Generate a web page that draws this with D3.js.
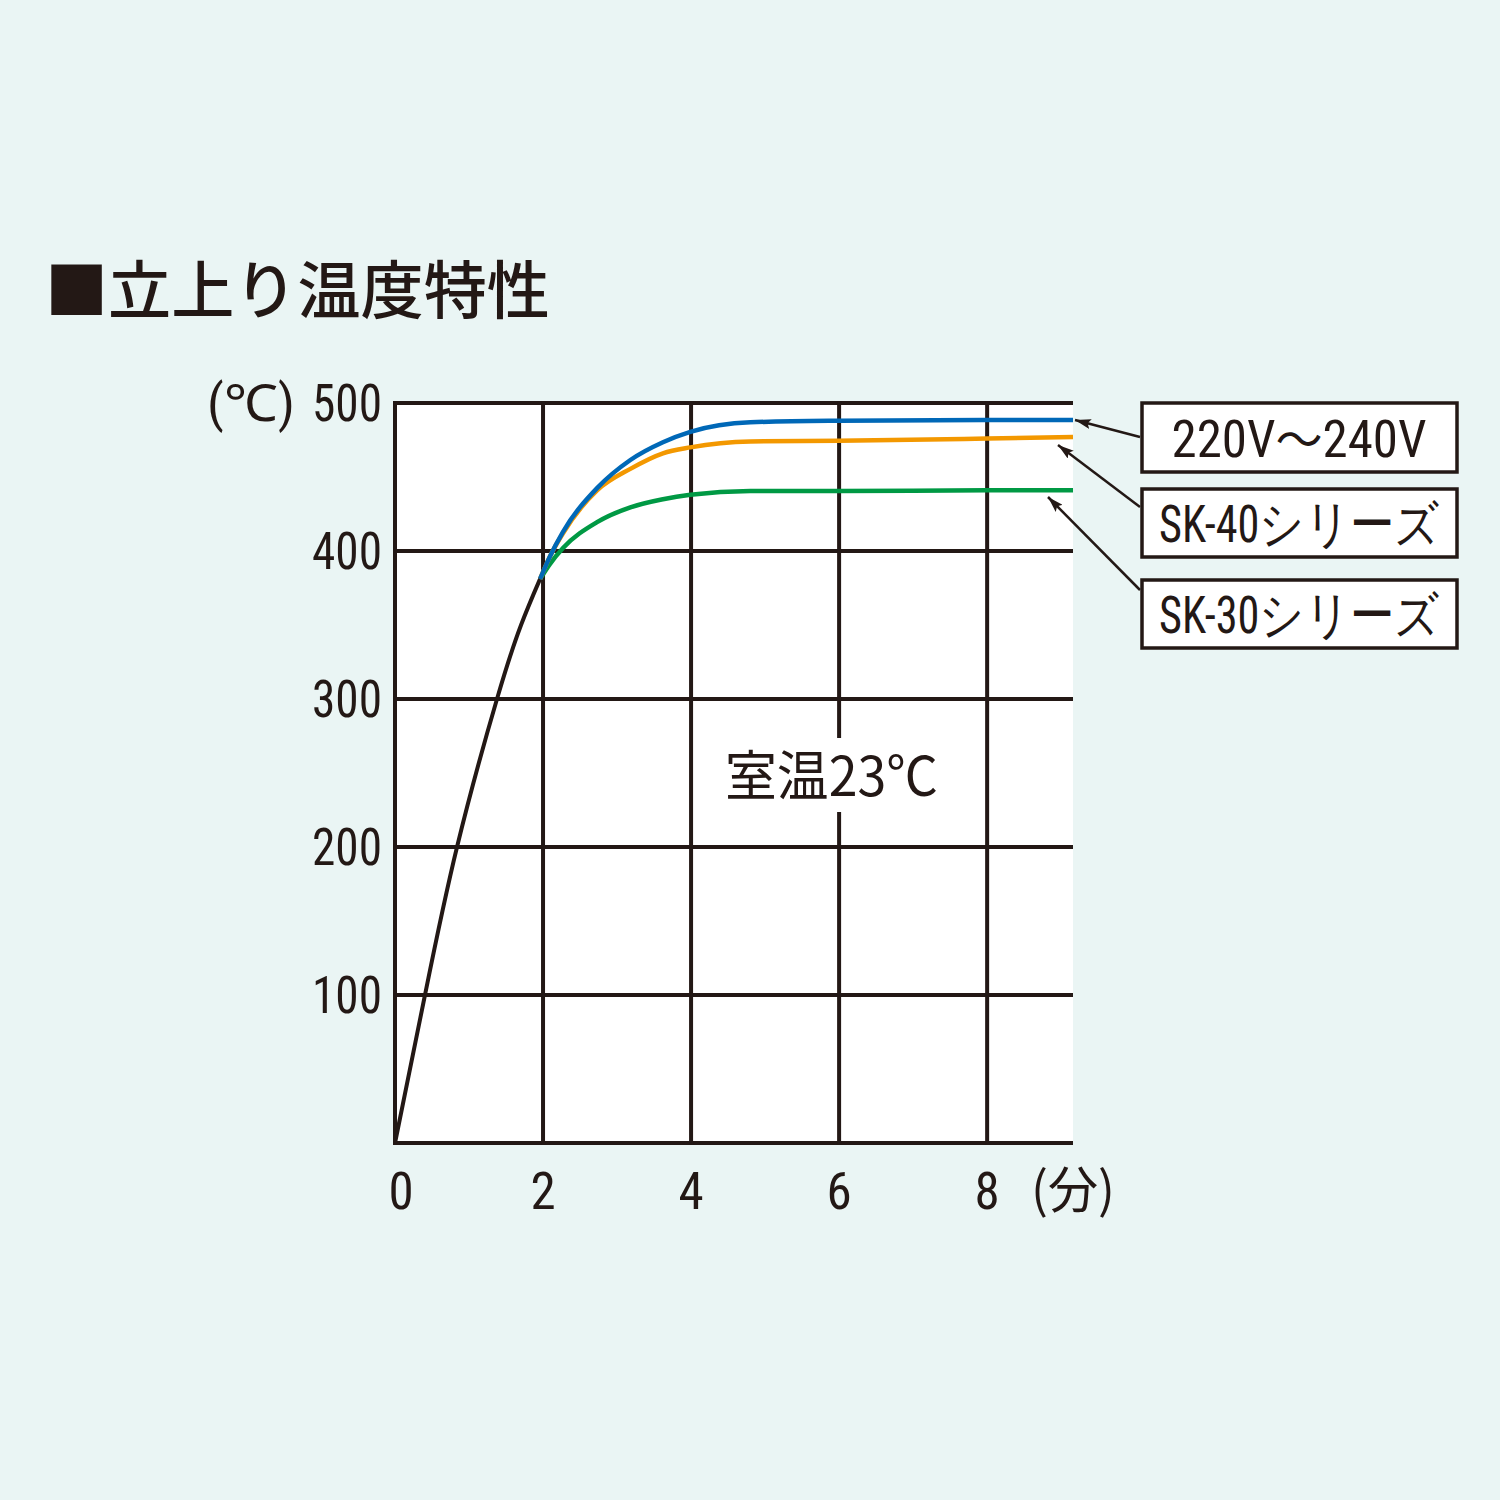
<!DOCTYPE html>
<html><head><meta charset="utf-8">
<script src="https://cdn.jsdelivr.net/npm/d3@7"></script>
<style>
html,body{margin:0;padding:0;background:#eaf5f4;}
svg{display:block;}
</style></head>
<body>
<svg id="c" width="1500" height="1500"></svg>
<script>
const title = "■立上り温度特性";
const yTicks = [100, 200, 300, 400, 500];
const xTicks = [0, 2, 4, 6, 8];
const yUnit = "(℃)";
const xUnit = "(分)";
const roomLabel = "室温23℃";

const blackT = [0, 0.405, 0.838, 1.378, 1.703, 1.959];
const blackV = [0, 100, 200, 300, 350, 381];

const riseT   = [1.959, 2.09, 2.27, 2.73, 3.18, 3.62, 3.99, 4.8, 6, 8, 9.16];
const blueV   = [381, 396, 413, 442.5, 461.5, 473.5, 480.5, 487, 488, 488.5, 488.5];
const orangeV = [381, 396, 412, 441, 455.5, 466, 470, 474, 474.5, 476, 477];
const greenV  = [381, 391, 402, 419.5, 429.5, 435, 438, 440.5, 440.5, 441, 441];

const seriesNames = [["220V", "～", "240V"], ["SK-40シリーズ"], ["SK-30シリーズ"]];
const seriesColors = ["#0068b7", "#f39800", "#009944"];

const ink = "#231815";
const svg = d3.select("#c");
const numFont = "'Liberation Sans Narrow','Roboto Condensed','Liberation Sans',sans-serif";
const jpFont = "'Noto Sans CJK JP',sans-serif";

const x = d3.scaleLinear().domain([0, 9.16]).range([395, 1073]);
const y = d3.scaleLinear().domain([0, 500]).range([1143, 403]);

// title
svg.append("text").attr("x", 45).attr("y", 313)
  .attr("font-family", jpFont).attr("font-weight", 500).attr("font-size", 63)
  .attr("textLength", 505).attr("lengthAdjust", "spacingAndGlyphs")
  .attr("fill", ink).text(title);

// plot background
svg.append("rect").attr("x", x(0)).attr("y", y(500))
  .attr("width", x(9.16) - x(0)).attr("height", y(0) - y(500)).attr("fill", "#fff");

// grid
const g = svg.append("g").attr("stroke", ink).attr("stroke-width", 4);
[0].concat(yTicks).forEach(v => {
  g.append("line").attr("x1", x(0) - 2).attr("x2", x(9.16)).attr("y1", y(v)).attr("y2", y(v));
});
xTicks.forEach(v => {
  g.append("line").attr("x1", x(v)).attr("x2", x(v)).attr("y1", y(500) - 2).attr("y2", y(0) + 2);
});

// room temp label with white box
svg.append("rect").attr("x", 722).attr("y", 738).attr("width", 222).attr("height", 74).attr("fill", "#fff");
svg.append("text").attr("x", 725).attr("y", 796)
  .attr("font-family", jpFont).attr("font-size", 54).attr("fill", ink)
  .attr("textLength", 213).attr("lengthAdjust", "spacingAndGlyphs").text(roomLabel);

// curves
const lineC = d3.line().x(d => x(d[0])).y(d => y(d[1])).curve(d3.curveMonotoneX);
const lineB = d3.line().x(d => x(d[0])).y(d => y(d[1])).curve(d3.curveNatural);
const curves = [blueV, orangeV, greenV];
[2, 1, 0].forEach(i => {
  svg.append("path").attr("d", lineC(riseT.map((t, k) => [t, curves[i][k]])))
    .attr("fill", "none").attr("stroke", seriesColors[i]).attr("stroke-width", 4.5);
});
svg.append("path").attr("d", lineB(blackT.map((t, k) => [t, blackV[k]])))
  .attr("fill", "none").attr("stroke", ink).attr("stroke-width", 4);

// y tick labels
yTicks.forEach(v => {
  svg.append("text").attr("x", 382).attr("y", y(v) + 18).attr("text-anchor", "end")
    .attr("font-family", numFont).attr("font-size", 51).attr("fill", ink)
    .attr("textLength", 70).attr("lengthAdjust", "spacingAndGlyphs").text(v);
});
svg.append("text").attr("x", 207).attr("y", y(500) + 18)
  .attr("font-family", numFont).attr("font-size", 51).attr("fill", ink)
  .attr("textLength", 88).attr("lengthAdjust", "spacingAndGlyphs").text(yUnit);

// x tick labels
xTicks.forEach(v => {
  svg.append("text").attr("x", x(v) + (v === 0 ? 6 : 0)).attr("y", 1209).attr("text-anchor", "middle")
    .attr("font-family", numFont).attr("font-size", 51).attr("fill", ink).text(v);
});
svg.append("text").attr("x", 1031).attr("y", 1208)
  .attr("font-family", jpFont).attr("font-size", 50).attr("fill", ink)
  .attr("textLength", 84).attr("lengthAdjust", "spacingAndGlyphs").text(xUnit);

// legend boxes with arrows
const boxes = [{y: 403, h: 69, w: 255}, {y: 489, h: 68, w: 280}, {y: 580, h: 68, w: 280}];
const defs = svg.append("defs");
defs.append("marker").attr("id", "ah").attr("viewBox", "0 0 16 10").attr("refX", 16).attr("refY", 5)
  .attr("markerWidth", 16).attr("markerHeight", 10).attr("orient", "auto")
  .attr("markerUnits", "userSpaceOnUse")
  .append("path").attr("d", "M0,0 L16,5 L0,10 L3,5 Z").attr("fill", ink);
const tipPts = [[1075, 420], [1058, 445], [1048, 497]];
const startY = [437, 507, 590];
boxes.forEach((b, i) => {
  svg.append("rect").attr("x", 1142).attr("y", b.y).attr("width", 315).attr("height", b.h)
    .attr("fill", "#fff").attr("stroke", ink).attr("stroke-width", 3.5);
  const t = svg.append("text").attr("x", 1299).attr("y", b.y + b.h / 2 + 19).attr("text-anchor", "middle")
    .attr("font-family", numFont).attr("font-size", 52).attr("fill", ink)
    .attr("textLength", b.w).attr("lengthAdjust", "spacingAndGlyphs");
  seriesNames[i].forEach(part => {
    const ts = t.append("tspan").text(part);
    if (part === "～") ts.attr("font-family", jpFont).attr("font-size", 48);
  });
  svg.append("line").attr("x1", 1140).attr("y1", startY[i]).attr("x2", tipPts[i][0]).attr("y2", tipPts[i][1])
    .attr("stroke", ink).attr("stroke-width", 2.5).attr("marker-end", "url(#ah)");
});
</script>
</body></html>
